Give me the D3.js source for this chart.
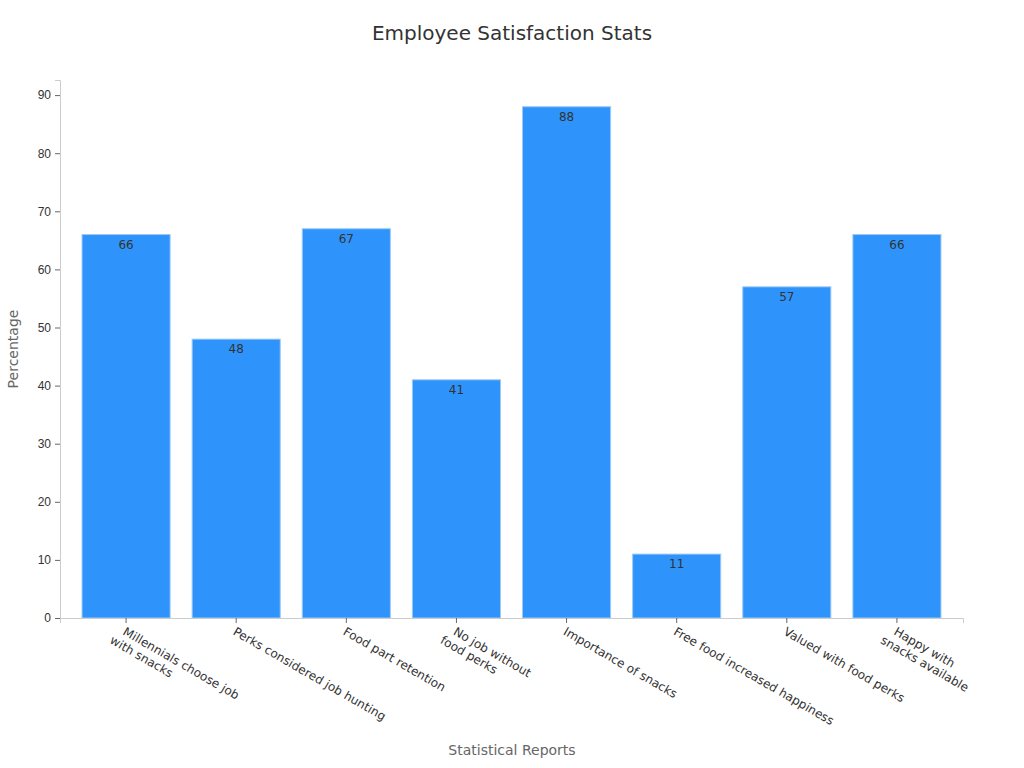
<!DOCTYPE html>
<html><head><meta charset="utf-8">
<script src="https://cdn.jsdelivr.net/npm/d3@7"></script>
<style>body{margin:0;background:#fff;font-family:"DejaVu Sans",sans-serif}</style>
</head><body><div class="canvas"></div>
<script>
const categories = [
  ['Millennials choose job', 'with snacks'],
  ['Perks considered job hunting'],
  ['Food part retention'],
  ['No job without', 'food perks'],
  ['Importance of snacks'],
  ['Free food increased happiness'],
  ['Valued with food perks'],
  ['Happy with', 'snacks available']
];
const values = [66, 48, 67, 41, 88, 11, 57, 66];
const yTicks = [0, 10, 20, 30, 40, 50, 60, 70, 80, 90];

const dims = { width: 1024, height: 768 };
const m = { left: 60, right: 61, top: 80, bottom: 150 };

const svg = d3.select('.canvas').append('svg')
  .attr('width', dims.width).attr('height', dims.height)
  .style('font-family', '"DejaVu Sans", sans-serif');

const x = d3.scaleBand()
  .domain(d3.range(values.length))
  .range([m.left, dims.width - m.right])
  .padding(0.2);
const y = d3.scaleLinear()
  .domain([0, 92.6])
  .range([dims.height - m.bottom, m.top]);

svg.append('text').attr('x', 512).attr('y', 40).attr('text-anchor', 'middle')
  .attr('font-size', 20).attr('fill', '#333').text('Employee Satisfaction Stats');

const yAxis = svg.append('g').attr('transform', `translate(${m.left},0)`)
  .call(d3.axisLeft(y).tickValues(yTicks).tickSize(5).tickPadding(4));
yAxis.select('.domain').attr('stroke', '#ccc');
yAxis.selectAll('line').attr('stroke', '#666');
yAxis.selectAll('text').attr('font-size', 12).attr('fill', '#333');

svg.selectAll('rect.bar').data(values).enter().append('rect')
  .attr('class', 'bar')
  .attr('x', (d, i) => x(i))
  .attr('width', x.bandwidth())
  .attr('y', d => y(d))
  .attr('height', d => y(0) - y(d))
  .attr('fill', '#2e93fa')
  .attr('stroke', '#9ccaf7')
  .attr('stroke-width', 1);

svg.selectAll('text.val').data(values).enter().append('text')
  .attr('class', 'val')
  .attr('x', (d, i) => x(i) + x.bandwidth() / 2)
  .attr('y', d => y(d) + 14)
  .attr('text-anchor', 'middle').attr('font-size', 12).attr('fill', '#333')
  .text(d => d);

const xAxis = svg.append('g').attr('transform', `translate(0,${y(0)})`)
  .call(d3.axisBottom(x).tickSize(5).tickFormat(''));
xAxis.select('.domain').attr('stroke', '#ccc');
xAxis.selectAll('line').attr('stroke', '#666');

categories.forEach((lines, i) => {
  const cx = x(i) + x.bandwidth() / 2;
  const t = svg.append('text')
    .attr('transform', `translate(${cx - 4},${y(0) + 16}) rotate(30)`)
    .attr('font-size', 12).attr('fill', '#333');
  lines.forEach((l, j) => {
    t.append('tspan').attr('x', -j * 7).attr('dy', j ? 14 : 0).text(l);
  });
});

svg.append('text').attr('x', 512).attr('y', 755).attr('text-anchor', 'middle')
  .attr('font-size', 14).attr('fill', '#666').text('Statistical Reports');
svg.append('text').attr('transform', 'translate(18,349) rotate(-90)')
  .attr('text-anchor', 'middle').attr('font-size', 14).attr('fill', '#666').text('Percentage');
</script></body></html>
